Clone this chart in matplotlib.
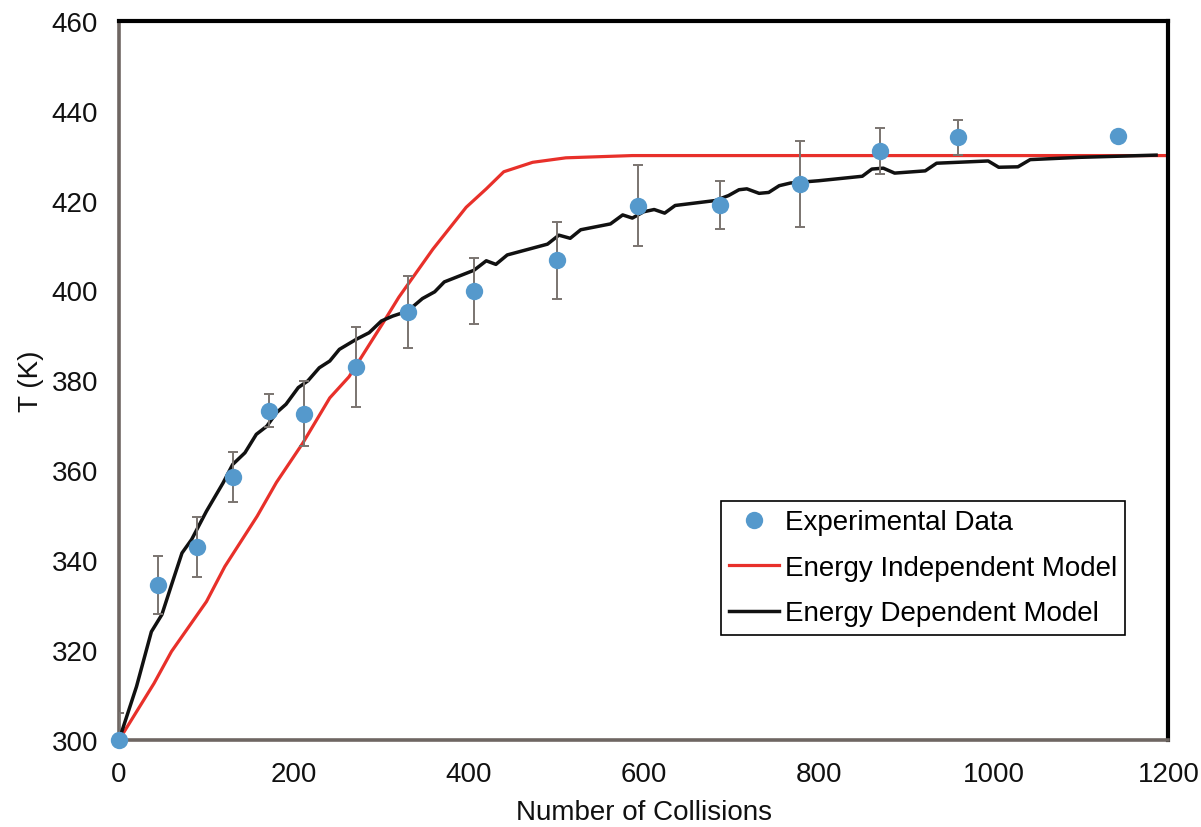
import matplotlib
matplotlib.use("Agg")
import matplotlib.pyplot as plt

plt.rcParams["font.family"] = ["Liberation Sans", "DejaVu Sans"]

# experimental points
exp_x = [0, 45, 89, 130, 172, 212, 271, 330, 406, 501, 594, 687, 779, 870, 960, 1142]
exp_t = [300.0, 334.5, 342.9, 358.5, 373.3, 372.6, 383.0, 395.2, 399.9, 406.7,
         418.8, 419.0, 423.7, 431.1, 434.1, 434.3]
exp_err = [6.0, 6.5, 6.7, 5.5, 3.7, 7.3, 8.9, 8.1, 7.3, 8.5,
           9.0, 5.3, 9.5, 5.1, 3.9, 0.0]

# energy independent model
ind_x = [0, 40, 60, 100, 121, 158, 180, 210, 241, 263, 301, 320, 359, 397,
         420, 440, 473, 511, 587, 1200]
ind_t = [300.0, 312.6, 319.7, 330.8, 338.6, 349.8, 357.3, 366.0, 376.1, 380.8,
         392.5, 398.5, 409.2, 418.5, 422.6, 426.4, 428.5, 429.5, 430.0, 430.0]

# energy dependent model
dep_x = [0, 20, 37, 49, 60, 72, 83, 100, 119, 130, 144, 157, 169, 180, 191,
         205, 216, 229, 241, 252, 271, 286, 300, 313, 330, 347, 361, 372, 406,
         420, 431, 444, 490, 503, 516, 528, 562, 576, 587, 600, 612, 624, 636,
         682, 697, 709, 718, 732, 743, 755, 768, 800, 850, 861, 874, 887, 922,
         935, 994, 1006, 1028, 1042, 1097, 1186]
dep_t = [300.0, 311.9, 324.1, 327.9, 334.5, 341.6, 344.6, 350.9, 357.2, 361.3,
         363.9, 368.0, 369.8, 372.8, 374.7, 378.4, 379.9, 382.8, 384.3, 386.9,
         389.1, 390.6, 393.2, 394.3, 395.4, 398.2, 399.7, 401.9, 404.5, 406.6,
         405.8, 407.9, 410.3, 412.3, 411.6, 413.5, 414.8, 416.8, 416.1, 417.5,
         418.0, 417.2, 418.9, 420.0, 421.1, 422.4, 422.6, 421.6, 421.8, 423.3,
         423.9, 424.4, 425.4, 427.0, 427.2, 426.1, 426.6, 428.3, 428.8, 427.4,
         427.5, 429.1, 429.6, 430.1]

fig = plt.figure(figsize=(12.01, 8.28), dpi=100)
ax = fig.add_axes([0.0991, 0.105, 0.8737, 0.8688])

ax.plot(ind_x, ind_t, color="#E8302A", lw=2.3, label="Energy Independent Model", zorder=2)
ax.plot(dep_x, dep_t, color="#111111", lw=2.5, label="Energy Dependent Model", zorder=3)
ax.errorbar(exp_x, exp_t, yerr=exp_err, fmt="none", ecolor="#7a7470",
            elinewidth=1.4, capsize=3.5, capthick=1.4, zorder=4)
ax.plot(exp_x, exp_t, "o", color="#5599CC", ms=12.5, mec="none",
        label="Experimental Data", zorder=5, clip_on=False)

ax.set_xlim(0, 1200)
ax.set_ylim(300, 460)
ax.set_xticks(range(0, 1201, 200))
ax.set_yticks(range(300, 461, 20))
ax.tick_params(length=0, labelsize=20, pad=15, colors="#111111")

for side in ["top", "right"]:
    ax.spines[side].set_color("black")
    ax.spines[side].set_linewidth(3.0)
for side in ["left", "bottom"]:
    ax.spines[side].set_color("#6e6662")
    ax.spines[side].set_linewidth(2.6)

ax.set_xlabel("Number of Collisions", fontsize=20, color="#111111", va="center")
ax.xaxis.set_label_coords(0.5, -0.1)
ax.set_ylabel("T (K)", fontsize=20, color="#111111", va="center")
ax.yaxis.set_label_coords(-0.084, 0.5)

handles, labels = ax.get_legend_handles_labels()
order = [2, 0, 1]
leg = ax.legend([handles[i] for i in order], [labels[i] for i in order],
                loc="upper left", bbox_to_anchor=(0.5734, 0.3323),
                borderaxespad=0, fontsize=20, fancybox=False, framealpha=1,
                edgecolor="black", handlelength=1.8, handletextpad=0.2,
                labelspacing=0.7, borderpad=0.3, numpoints=1)
leg.get_frame().set_linewidth(1.2)

fig.savefig("out.png", dpi=100)
